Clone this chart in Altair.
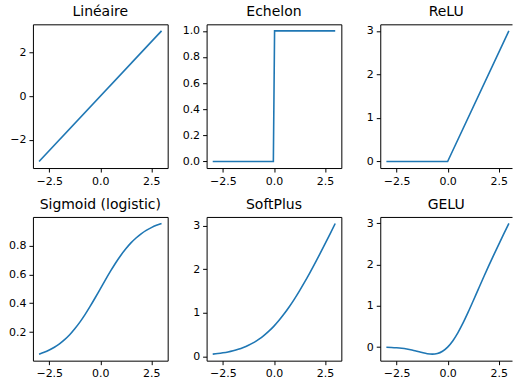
import altair as alt
import pandas as pd

# ---- data ----
x_lin = [-3.0, 3.0]
y_lin = [-3.0, 3.0]

x_step = [-3.0, -0.03, 0.03, 3.0]
y_step = [0.0, 0.0, 1.0, 1.0]

x_relu = [-3.0, 0.0, 3.0]
y_relu = [0.0, 0.0, 3.0]

x_curve = [-3.0, -2.75, -2.5, -2.25, -2.0, -1.75, -1.5, -1.25, -1.0, -0.75, -0.5, -0.25,
           0.0, 0.25, 0.5, 0.75, 1.0, 1.25, 1.5, 1.75, 2.0, 2.25, 2.5, 2.75, 3.0]
y_sigmoid = [0.047, 0.060, 0.076, 0.095, 0.119, 0.148, 0.182, 0.223, 0.269, 0.321, 0.378, 0.438,
             0.500, 0.562, 0.622, 0.679, 0.731, 0.777, 0.818, 0.852, 0.881, 0.905, 0.924, 0.940, 0.953]
y_softplus = [0.049, 0.062, 0.079, 0.100, 0.127, 0.160, 0.201, 0.252, 0.313, 0.387, 0.474, 0.576,
              0.693, 0.826, 0.974, 1.137, 1.313, 1.502, 1.701, 1.910, 2.127, 2.350, 2.579, 2.812, 3.049]
y_gelu = [-0.004, -0.008, -0.016, -0.028, -0.046, -0.070, -0.100, -0.132, -0.159, -0.170, -0.154, -0.100,
          0.000, 0.150, 0.346, 0.580, 0.841, 1.118, 1.400, 1.680, 1.955, 2.223, 2.485, 2.742, 2.996]

titles = ["Linéaire", "Echelon", "ReLU", "Sigmoid (logistic)", "SoftPlus", "GELU"]
x_ticks = [-2.5, 0.0, 2.5]

BLUE = "#1f77b4"
FONT = "DejaVu Sans"
W, H = 135, 144
W_CUT = 132  # last column is cut by the picture edge


def panel(title, xs, ys, ydom, yticks, yfmt, smooth=False, cut=False):
    df = pd.DataFrame({"x": xs, "y": ys})
    width = W_CUT if cut else W
    xmax = -3.3 + 6.6 * width / W
    xscale = alt.Scale(domain=[-3.3, xmax], nice=False, zero=False)
    yscale = alt.Scale(domain=ydom, nice=False, zero=False)
    line = alt.Chart(df).mark_line(
        color=BLUE, strokeWidth=1.6, interpolate="monotone" if smooth else "linear", clip=True
    ).encode(
        x=alt.X("x:Q", scale=xscale,
                axis=alt.Axis(values=x_ticks, format=".1f", title=None, domain=cut)),
        y=alt.Y("y:Q", scale=yscale,
                axis=alt.Axis(values=yticks, format=yfmt, title=None, domain=cut)),
    )
    if not cut:
        return line.properties(width=width, height=H, title=title)
    top = alt.Chart(df).mark_line(strokeOpacity=0).encode(
        x=alt.X("x:Q", scale=xscale,
                axis=alt.Axis(orient="top", labels=False, ticks=False, domain=True, title=None)),
        y=alt.Y("y:Q", scale=yscale,
                axis=alt.Axis(values=yticks, format=yfmt, title=None, domain=True)),
    )
    return (
        alt.layer(line, top)
        .resolve_axis(x="independent")
        .properties(width=width, height=H, title=title, view=alt.ViewBackground(stroke="transparent"))
    )


p1 = panel(titles[0], x_lin, y_lin, [-3.3, 3.3], [-2, 0, 2], "d")
p2 = panel(titles[1], x_step, y_step, [-0.05, 1.05], [0, 0.2, 0.4, 0.6, 0.8, 1.0], ".1f")
p3 = panel(titles[2], x_relu, y_relu, [-0.15, 3.15], [0, 1, 2, 3], "d", cut=True)
p4 = panel(titles[3], x_curve, y_sigmoid, [0.002, 0.998], [0.2, 0.4, 0.6, 0.8], ".1f", smooth=True)
p5 = panel(titles[4], x_curve, y_softplus, [-0.101, 3.199], [0, 1, 2, 3], "d", smooth=True)
p6 = panel(titles[5], x_curve, y_gelu, [-0.328, 3.154], [0, 1, 2, 3], "d", smooth=True, cut=True)

chart = (
    alt.concat(p1, p2, p3, p4, p5, p6, columns=3, spacing={"row": 49, "column": 39}, bounds="flush")
    .properties(padding={"left": 8, "top": 4, "right": 0, "bottom": 0})
    .configure(background="white")
    .configure_view(stroke="#000000", strokeWidth=1)
    .configure_axis(
        grid=False,
        labelFont=FONT,
        labelFontSize=11,
        labelColor="#000000",
        labelPadding=3,
        tickColor="#000000",
        tickSize=4,
        tickWidth=1,
        domainColor="#000000",
        domainWidth=1,
    )
    .configure_title(
        font=FONT,
        fontSize=14,
        fontWeight="normal",
        color="#000000",
        anchor="middle",
        baseline="alphabetic",
        offset=5,
    )
)

chart.save("out.html", embed_options={"renderer": "svg", "actions": False})
